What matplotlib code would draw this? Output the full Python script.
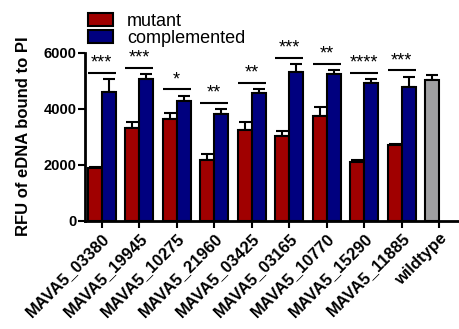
import matplotlib
matplotlib.use("Agg")
import matplotlib.pyplot as plt
from matplotlib.patches import Patch
import numpy as np

plt.rcParams['font.family'] = ['Liberation Sans', 'DejaVu Sans']

genes = ['MAVA5_03380', 'MAVA5_19945', 'MAVA5_10275', 'MAVA5_21960', 'MAVA5_03425',
         'MAVA5_03165', 'MAVA5_10770', 'MAVA5_15290', 'MAVA5_11885']
mutant = [1860, 3290, 3610, 2160, 3230, 3030, 3730, 2090, 2700]
mutant_err = [60, 230, 240, 230, 300, 170, 330, 70, 40]
complemented = [4600, 5050, 4280, 3800, 4540, 5290, 5220, 4900, 4780]
complemented_err = [440, 170, 170, 180, 140, 290, 150, 150, 350]
wildtype_label = 'wildtype'
wildtype = 5020
wildtype_err = 180
stars = ['***', '***', '*', '**', '**', '***', '**', '****', '***']

RED = '#A00000'
BLUE = '#00007F'
GREY = '#A0A0A2'

fig = plt.figure(figsize=(4.6, 3.29), dpi=100)
ax = fig.add_axes([85/460, 108.5/329, 375/460, 168/329])

w = 0.373
x = np.arange(len(genes))
lw = 1.5
ekw = dict(ecolor='black', elinewidth=lw, capsize=4.5, capthick=lw)

ax.bar(x - w/2, mutant, w, color=RED, edgecolor='black', linewidth=lw, zorder=2)
ax.bar(x + w/2, complemented, w, color=BLUE, edgecolor='black', linewidth=lw, zorder=2)
ax.errorbar(x - w/2, mutant, yerr=[np.zeros(len(x)), mutant_err], fmt='none', zorder=1, **ekw)
ax.errorbar(x + w/2, complemented, yerr=[np.zeros(len(x)), complemented_err], fmt='none', zorder=1, **ekw)

xw = len(genes)
ax.bar([xw - w/2], [wildtype], w, color=GREY, edgecolor='black', linewidth=lw, zorder=2)
ax.errorbar([xw - w/2], [wildtype], yerr=[[0], [wildtype_err]], fmt='none', zorder=1, **ekw)

# significance lines
for i in range(len(genes)):
    top = max(mutant[i] + mutant_err[i], complemented[i] + complemented_err[i])
    ly = top + 230
    ax.plot([x[i] - 0.37, x[i] + 0.37], [ly, ly], color='black', lw=lw, solid_capstyle='butt')
    ax.text(x[i], ly + 40, stars[i], ha='center', va='bottom', fontsize=13)

ax.set_xlim(-0.445, 9.55)
ax.set_ylim(0, 6000)
ax.set_yticks([0, 2000, 4000, 6000])
ax.set_xticks(list(x) + [xw])
ax.set_xticklabels(genes + [wildtype_label], rotation=45, ha='right', rotation_mode='anchor',
                   fontsize=12, fontweight='bold')
for lab in ax.get_yticklabels():
    lab.set_fontweight('bold')
    lab.set_fontsize(10.5)
ax.tick_params(axis='both', direction='out', length=5, width=lw, color='black', pad=2)
ax.tick_params(axis='y', pad=1)
for s in ['top', 'right']:
    ax.spines[s].set_visible(False)
for s in ['left', 'bottom']:
    ax.spines[s].set_linewidth(2)
ax.set_ylabel('RFU of eDNA bound to PI', fontsize=12, fontweight='bold', labelpad=9)

handles = [Patch(facecolor=RED, edgecolor='black', linewidth=lw),
           Patch(facecolor=BLUE, edgecolor='black', linewidth=lw)]
leg = fig.legend(handles, ['mutant', 'complemented'], loc='upper left',
                 bbox_to_anchor=(88/460, 1 - 13/329), frameon=False, fontsize=13,
                 handlelength=1.4, handleheight=0.72, handletextpad=0.75,
                 labelspacing=0.0, borderpad=0, borderaxespad=0)

fig.savefig('out.png', dpi=100)
